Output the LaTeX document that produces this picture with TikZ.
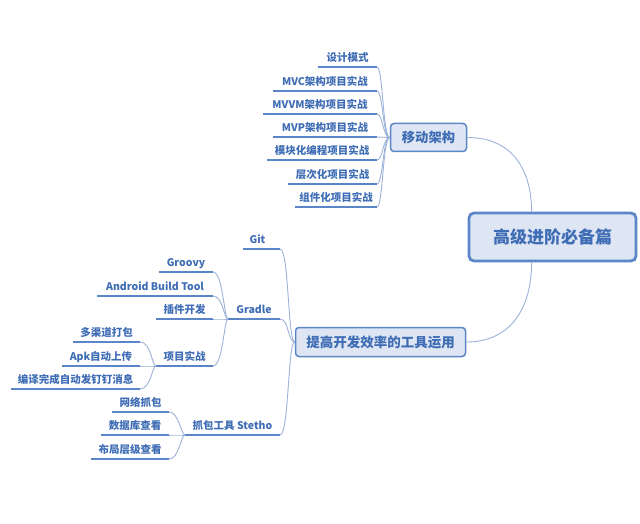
\documentclass[tikz,border=0pt]{standalone}
\usepackage{fontspec}
\setmainfont{Noto Sans CJK SC}
\usetikzlibrary{calc}
\definecolor{txtc}{HTML}{3F6DB5}
\definecolor{ulc}{HTML}{5A86C8}
\definecolor{connc}{HTML}{9DB2DA}
\definecolor{boxfill}{HTML}{DEE6F3}
\definecolor{boxdraw}{HTML}{5B87C9}
\tikzset{
  leaflabel/.style={font=\fontsize{10.5}{12}\selectfont\bfseries, text=txtc, anchor=base, inner sep=0pt},
  uline/.style={draw=ulc, line width=1.8pt},
  connline/.style={draw=connc, line width=0.9pt},
  topicbox/.style={draw=boxdraw, fill=boxfill, rounded corners=3.5pt, line width=1.5pt, text=txtc, inner sep=0pt},
}
% #1 name, #2 left x, #3 right x, #4 y, #5 text
\newcommand{\leafnode}[5]{%
  \coordinate (#1L) at (#2,#4);
  \coordinate (#1R) at (#3,#4);
  \draw[uline] (#1L) -- (#1R);
  \node[leaflabel] (#1) at ({(#2+#3)/2},{#4-5.5}) {#5};
}
% #1 parent point, #2 child point, #3 d1, #4 d2
\newcommand{\branchline}[4]{%
  \draw[connline] (#1) .. controls +(-#3,0) and +(#4,0) .. (#2);
}
\begin{document}
\begin{tikzpicture}[x=1pt,y=-1pt]
\useasboundingbox[fill=white] (0,0) rectangle (640,524);

% main topics
\node[topicbox, line width=2.8pt, rounded corners=5pt, minimum width=167pt, minimum height=48pt,
      font=\fontsize{17}{20}\selectfont\bfseries] (root) at (552.5,237) {高级进阶必备篇};
\node[topicbox, minimum width=76pt, minimum height=28pt,
      font=\fontsize{13.3}{16}\selectfont\bfseries] (arch) at (428.5,137.5) {移动架构};
\node[topicbox, minimum width=170pt, minimum height=29pt,
      font=\fontsize{13.5}{16}\selectfont\bfseries] (tools) at (380.5,342) {提高开发效率的工具运用};

\coordinate (rootT) at ($(root.north west)+(64,0)$);
\coordinate (rootB) at ($(root.south west)+(64,0)$);
\draw[connline] (arch.east) .. controls +(48,0) and +(0,-38) .. (rootT);
\draw[connline] (rootB) .. controls +(0,45) and +(45,0) .. (tools.east);

% 移动架构 children
\leafnode{a1}{318}{377}{67}{设计模式}
\leafnode{a2}{273}{377}{91}{MVC架构项目实战}
\leafnode{a3}{263}{377}{114}{MVVM架构项目实战}
\leafnode{a4}{273}{377}{137}{MVP架构项目实战}
\leafnode{a5}{267}{377}{160}{模块化编程项目实战}
\leafnode{a6}{288}{377}{184}{层次化项目实战}
\leafnode{a7}{295}{377}{207}{组件化项目实战}
\foreach \c in {a1,a2,a3,a4,a5,a6,a7}{\branchline{arch.west}{\c R}{7}{6}}

% 提高开发效率 children
\coordinate (b1L) at (243,249);
\coordinate (b1R) at (280,249);
\draw[uline] (b1L) -- (b1R);
\node[leaflabel] (b1) at (257.5,243.5) {Git};
\leafnode{b2}{228}{280}{319}{Gradle}
\leafnode{b3}{185}{280}{435}{抓包工具 Stetho}
\foreach \c in {b1,b2,b3}{\branchline{tools.west}{\c R}{7}{9}}

% Gradle children
\leafnode{c1}{159}{213}{272}{Groovy}
\leafnode{c2}{97}{213}{296}{Android Build Tool}
\leafnode{c3}{156}{213}{319}{插件开发}
\leafnode{c4}{156}{213}{366}{项目实战}
\foreach \c in {c1,c2,c3,c4}{\branchline{b2L}{\c R}{4}{10}}

% 项目实战 children
\leafnode{d1}{73}{140}{342}{多渠道打包}
\leafnode{d2}{62}{140}{366}{Apk自动上传}
\leafnode{d3}{11}{140}{389}{编译完成自动发钉钉消息}
\foreach \c in {d1,d2,d3}{\branchline{c4L}{\c R}{4}{11}}

% Stetho children
\leafnode{e1}{112}{169}{412}{网络抓包}
\leafnode{e2}{101}{169}{435}{数据库查看}
\leafnode{e3}{91}{169}{459}{布局层级查看}
\foreach \c in {e1,e2,e3}{\branchline{b3L}{\c R}{4}{10}}
\end{tikzpicture}
\end{document}
